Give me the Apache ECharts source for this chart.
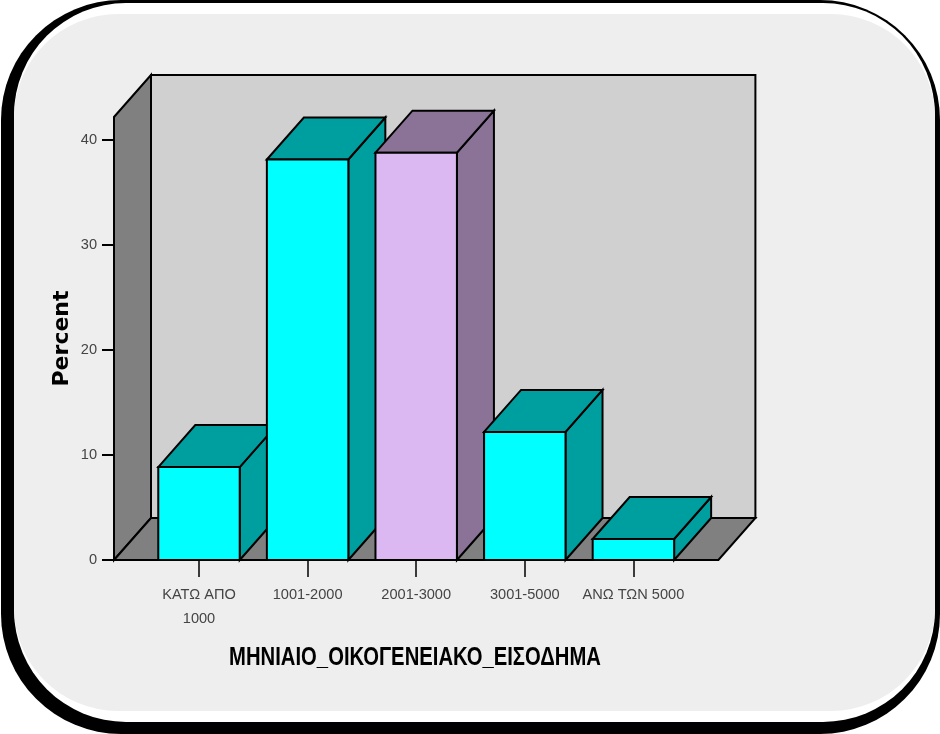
<!DOCTYPE html>
<html>
<head>
<meta charset="utf-8">
<style>html,body{margin:0;padding:0;background:#fff}#c{width:940px;height:734px}</style>
<script src="https://cdn.jsdelivr.net/npm/echarts@6/dist/echarts.min.js"></script>
</head>
<body>
<div id="c"></div>
<script>
const categories = ['ΚΑΤΩ ΑΠΟ\n1000', '1001-2000', '2001-3000', '3001-5000', 'ΑΝΩ ΤΩΝ 5000'];
const percentValues = [8.85, 38.15, 38.8, 12.2, 2.0];
const yTicks = [0, 10, 20, 30, 40];
const yMax = 42.2;
const highlighted = '2001-3000';
const xTitle = 'ΜΗΝΙΑΙΟ_ΟΙΚΟΓΕΝΕΙΑΚΟ_ΕΙΣΟΔΗΜΑ';

const DX = 37, DY = -42, PAD = 30.7;
const INK = '#000';
const SANS = '"Liberation Sans", sans-serif';
const face = (pts, fill) => ({type: 'polygon', shape: {points: pts}, style: {fill, stroke: INK, lineWidth: 2, lineJoin: 'miter'}});
const card = (x, y, width, height, r, fill) => ({type: 'rect', z: -100, silent: true,
  shape: {x, y, width, height, r}, style: {fill}});

const chart = echarts.init(document.getElementById('c'), null, {renderer: 'canvas'});
chart.setOption({
  animation: false,
  backgroundColor: '#fff',
  graphic: {elements: [
    card(1, 0, 939, 734, 120, '#000'),
    card(14, 3, 921, 719, 112, '#fff'),
    card(14, 14, 921, 697, 104, '#eee'),
    {type: 'text', silent: true, x: 415, y: 658, scaleX: 0.81, z: 5,
     style: {text: xTitle, fontFamily: SANS, fontSize: 25, fontWeight: 'bold', fill: '#000',
             textAlign: 'center', textVerticalAlign: 'middle'}}
  ]},
  grid: {left: 144.7, right: 252.3, top: 117, bottom: 174},
  xAxis: {
    type: 'category', data: categories,
    axisLine: {show: false},
    axisTick: {show: true, alignWithLabel: true, length: 17, lineStyle: {color: INK, width: 1.5}},
    axisLabel: {interval: 0, margin: 23, fontFamily: SANS, fontSize: 14.6, color: '#444', lineHeight: 24},
    splitLine: {show: false}
  },
  yAxis: {
    type: 'value', min: 0, max: yMax, offset: PAD,
    name: 'Percent', nameLocation: 'middle', nameGap: 41, nameMoveOverlap: false,
    nameTextStyle: {fontFamily: 'DejaVu Sans', fontSize: 22, fontWeight: 'bold', color: '#000'},
    axisLine: {show: false},
    axisTick: {show: true, length: 12, customValues: yTicks, lineStyle: {color: INK, width: 2}},
    axisLabel: {margin: 17, customValues: yTicks, fontFamily: SANS, fontSize: 14.6, color: '#444'},
    splitLine: {show: false}
  },
  series: [
    {
      type: 'custom', z: 1, silent: true,
      data: [[categories[0], 0]],
      renderItem(params, api) {
        const cs = params.coordSys;
        const xl = cs.x - PAD, xr = cs.x + cs.width + PAD;
        const y0 = api.coord([0, 0])[1], yT = api.coord([0, yMax])[1];
        return {type: 'group', children: [
          face([[xl + DX, yT + DY], [xr + DX, yT + DY], [xr + DX, y0 + DY], [xl + DX, y0 + DY]], '#d0d0d0'),
          face([[xl, yT], [xl + DX, yT + DY], [xl + DX, y0 + DY], [xl, y0]], '#808080'),
          face([[xl, y0], [xl + DX, y0 + DY], [xr + DX, y0 + DY], [xr, y0]], '#808080')
        ]};
      }
    },
    {
      type: 'custom', z: 2, silent: true,
      encode: {x: 0, y: 1},
      data: categories.map((c, i) => [i, percentValues[i]]),
      renderItem(params, api) {
        const i = api.value(0);
        const top = api.coord([i, api.value(1)]);
        const base = api.coord([i, 0]);
        const w = api.size([1, 0])[0] * 0.75;
        const L = top[0] - w / 2, R = top[0] + w / 2, T = top[1], B = base[1];
        const hi = categories[i] === highlighted;
        const front = hi ? '#dcb8f2' : '#00ffff';
        const shade = hi ? '#8a7397' : '#009f9f';
        return {type: 'group', children: [
          face([[R, T], [R + DX, T + DY], [R + DX, B + DY], [R, B]], shade),
          face([[L, T], [L + DX, T + DY], [R + DX, T + DY], [R, T]], shade),
          face([[L, T], [R, T], [R, B], [L, B]], front)
        ]};
      }
    }
  ]
});
</script>
</body>
</html>
